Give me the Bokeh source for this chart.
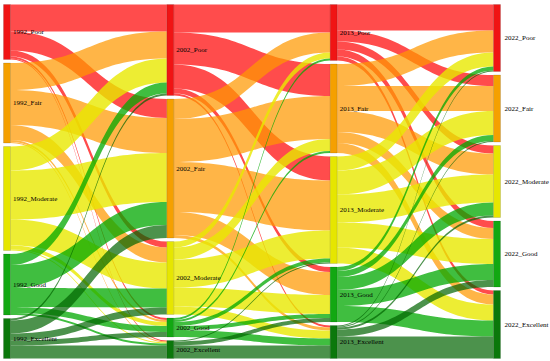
import numpy as np
from bokeh.plotting import figure
from bokeh.models import Range1d, ColumnDataSource
from bokeh.embed import file_html
from bokeh.resources import INLINE
from bokeh.core.properties import value

years = ["1992", "2002", "2013", "2022"]
classes = ["Poor", "Fair", "Moderate", "Good", "Excellent"]

# rows = source class, columns = target class (Poor, Fair, Moderate, Good, Excellent)
flows_1992_2002 = [
    [27, 19, 6, 2, 1],
    [27, 35, 15, 2, 1],
    [24, 49, 26, 4, 1],
    [11, 23, 19, 6, 2],
    [2, 13, 7, 5, 13],
]
flows_2002_2013 = [
    [28, 32, 24, 5, 2],
    [20, 43, 50, 23, 3],
    [6, 12, 28, 19, 8],
    [2, 2, 4, 4, 7],
    [0, 0, 1, 4, 13],
]
flows_2013_2022 = [
    [26, 11, 8, 7, 4],
    [22, 25, 21, 11, 10],
    [14, 24, 28, 25, 16],
    [4, 6, 13, 16, 16],
    [1, 1, 2, 7, 22],
]

node_colors = ["#f01414", "#f5a000", "#e6e600", "#12a812", "#0b780b"]
link_colors = ["#ff0000", "#ff9900", "#e8e800", "#00a800", "#006400"]
link_alphas = [0.7, 0.72, 0.8, 0.75, 0.7]

mats = [np.array(m, dtype=float) for m in (flows_1992_2002, flows_2002_2013, flows_2013_2022)]
ncol = len(years)
ncls = len(classes)

node_vals = []
for c in range(ncol):
    inflow = mats[c - 1].sum(axis=0) if c > 0 else np.zeros(ncls)
    outflow = mats[c].sum(axis=1) if c < ncol - 1 else np.zeros(ncls)
    node_vals.append(np.maximum(inflow, outflow))

top, bottom = 4.0, 358.0
node_w = 7.0
col_x = np.linspace(3.0, 493.0, ncol)

node_tops = []
for c in range(ncol):
    vals = node_vals[c]
    gap = (bottom - top - vals.sum()) / (ncls - 1)
    tops = top + np.concatenate([[0], np.cumsum(vals[:-1] + gap)])
    node_tops.append(tops)

p = figure(width=550, height=361, x_range=Range1d(0, 550), y_range=Range1d(361, 0),
           output_backend="svg", toolbar_location=None, min_border=0)
p.axis.visible = False
p.grid.visible = False
p.outline_line_color = None
p.background_fill_color = "white"

t = np.linspace(0, 1, 40)

def bez(x0, y0, x1, y1):
    xm = (x0 + x1) / 2
    bx = (1 - t) ** 3 * x0 + 3 * (1 - t) ** 2 * t * xm + 3 * (1 - t) * t ** 2 * xm + t ** 3 * x1
    by = (1 - t) ** 3 * y0 + 3 * (1 - t) ** 2 * t * y0 + 3 * (1 - t) * t ** 2 * y1 + t ** 3 * y1
    return bx, by

for c, m in enumerate(mats):
    x0 = col_x[c] + node_w
    x1 = col_x[c + 1]
    tgt_pos = np.zeros_like(m)
    for j in range(ncls):
        acc = node_tops[c + 1][j]
        for i in range(ncls):
            tgt_pos[i, j] = acc
            acc += m[i, j]
    for i in range(ncls):
        xs, ys = [], []
        acc = node_tops[c][i]
        for j in range(ncls):
            v = m[i, j]
            if v <= 0:
                continue
            tx, ty = bez(x0, acc, x1, tgt_pos[i, j])
            bx, by = bez(x0, acc + v, x1, tgt_pos[i, j] + v)
            xs.append(list(tx) + list(bx[::-1]))
            ys.append(list(ty) + list(by[::-1]))
            acc += v
        p.patches(xs, ys, fill_color=link_colors[i], fill_alpha=link_alphas[i], line_color=None)

for c in range(ncol):
    src = ColumnDataSource(dict(
        left=[col_x[c]] * ncls,
        right=[col_x[c] + node_w] * ncls,
        top=list(node_tops[c]),
        bottom=list(node_tops[c] + node_vals[c]),
        color=node_colors,
    ))
    p.quad(left="left", right="right", top="top", bottom="bottom", source=src,
           fill_color="color", line_color="black", line_alpha=0.25, line_width=0.5)
    lab = ColumnDataSource(dict(
        x=[col_x[c] + node_w + (2.5 if c < ncol - 1 else 4)] * ncls,
        y=list(node_tops[c] + node_vals[c] / 2),
        text=[f"{years[c]}_{k}" for k in classes],
    ))
    p.text(x="x", y="y", text="text", source=lab, text_font=value("Liberation Serif"),
           text_font_size="7px", text_baseline="middle", text_align="left", text_color="black")

open("out.html", "w").write(file_html(p, INLINE))
